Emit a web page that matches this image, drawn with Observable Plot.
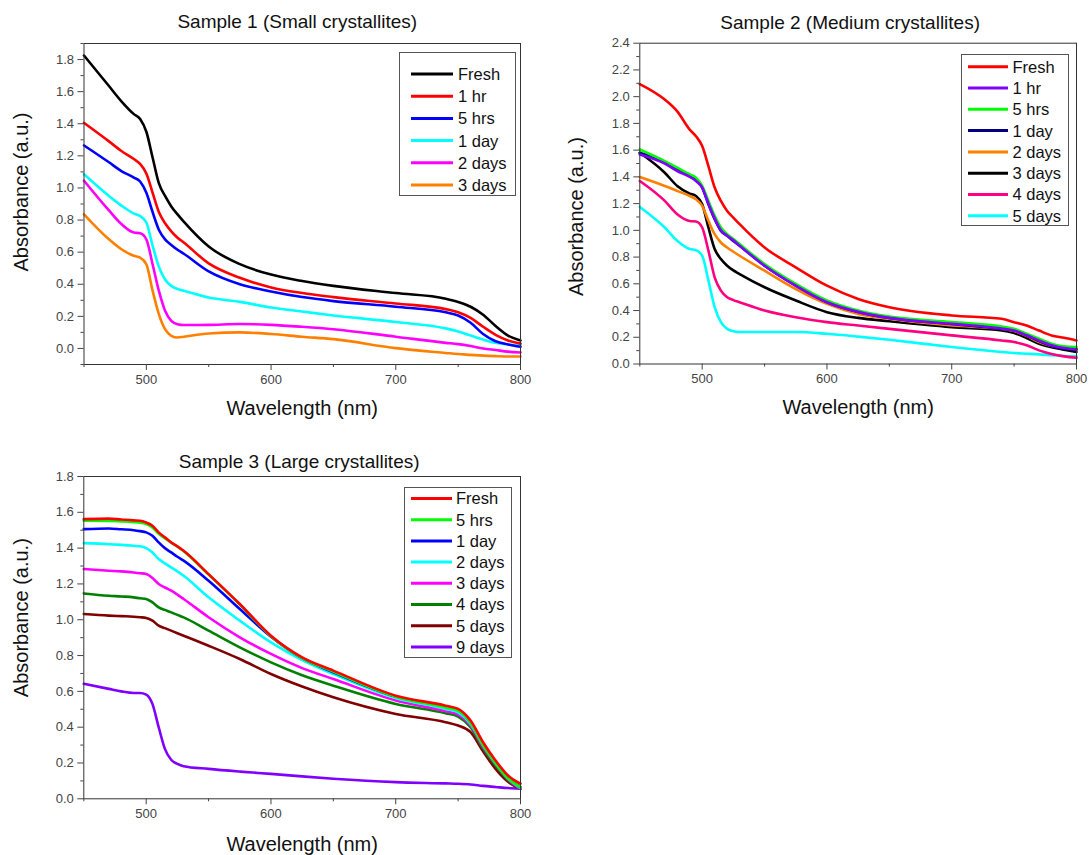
<!DOCTYPE html>
<html>
<head>
<meta charset="utf-8">
<script src="https://cdn.jsdelivr.net/npm/d3@7"></script>
<script src="https://cdn.jsdelivr.net/npm/@observablehq/plot@0.6"></script>
<style>
  body { margin: 0; background: #fff; }
  #root { position: relative; width: 1089px; height: 855px; overflow: hidden; font-family: Arial, "Liberation Sans", sans-serif; }
  .panel { position: absolute; }
  #overlay { position: absolute; left: 0; top: 0; pointer-events: none; }
</style>
</head>
<body>
<div id="root"></div>
<script>
// ---------- shared wavelength grid (nm) ----------
const wavelength = [450, 470, 480, 490, 495, 500, 505, 510, 515, 520, 525, 530, 550, 575, 600, 625, 650, 700, 740, 750, 760, 770, 780, 790, 800];

// ---------- Sample 1 (Small crystallites) ----------
const s1Labels = ["Fresh", "1 hr", "5 hrs", "1 day", "2 days", "3 days"];
const s1Colors = ["#000000", "#ff0000", "#0000ff", "#00ffff", "#ff00ff", "#ff8000"];
const s1Fresh = [1.825, 1.635, 1.54, 1.46, 1.43, 1.35, 1.19, 1.03, 0.95, 0.885, 0.835, 0.79, 0.635, 0.525, 0.46, 0.42, 0.39, 0.345, 0.31, 0.29, 0.26, 0.21, 0.14, 0.08, 0.05];
const s1Hr1 = [1.405, 1.29, 1.23, 1.18, 1.15, 1.09, 0.97, 0.85, 0.78, 0.73, 0.69, 0.66, 0.53, 0.44, 0.38, 0.345, 0.32, 0.28, 0.245, 0.225, 0.19, 0.135, 0.085, 0.05, 0.03];
const s1Hr5 = [1.265, 1.16, 1.105, 1.065, 1.04, 0.97, 0.85, 0.74, 0.68, 0.645, 0.615, 0.59, 0.48, 0.40, 0.355, 0.32, 0.295, 0.26, 0.225, 0.205, 0.16, 0.09, 0.045, 0.025, 0.01];
const s1Day1 = [1.085, 0.95, 0.89, 0.84, 0.825, 0.785, 0.64, 0.51, 0.43, 0.39, 0.37, 0.36, 0.317, 0.29, 0.255, 0.23, 0.205, 0.165, 0.125, 0.105, 0.08, 0.055, 0.035, 0.025, 0.02];
const s1Day2 = [1.045, 0.86, 0.775, 0.722, 0.718, 0.68, 0.525, 0.36, 0.235, 0.172, 0.151, 0.146, 0.147, 0.152, 0.147, 0.135, 0.12, 0.073, 0.035, 0.027, 0.015, 0.0, -0.01, -0.02, -0.025];
const s1Day3 = [0.836, 0.68, 0.618, 0.577, 0.566, 0.525, 0.36, 0.214, 0.12, 0.079, 0.068, 0.073, 0.093, 0.10, 0.09, 0.073, 0.058, 0.002, -0.028, -0.035, -0.04, -0.045, -0.048, -0.05, -0.05];
const s1Series = [s1Fresh, s1Hr1, s1Hr5, s1Day1, s1Day2, s1Day3];

// ---------- Sample 2 (Medium crystallites) ----------
const s2Labels = ["Fresh", "1 hr", "5 hrs", "1 day", "2 days", "3 days", "4 days", "5 days"];
const s2Colors = ["#ff0000", "#8000ff", "#00ff00", "#000080", "#ff8000", "#000000", "#ff0080", "#00ffff"];
const s2Fresh = [2.094, 1.978, 1.89, 1.754, 1.704, 1.63, 1.48, 1.32, 1.22, 1.145, 1.095, 1.046, 0.872, 0.723, 0.586, 0.487, 0.425, 0.363, 0.338, 0.313, 0.288, 0.25, 0.214, 0.196, 0.176];
const s2Hr1 = [1.568, 1.50, 1.444, 1.40, 1.369, 1.32, 1.20, 1.09, 1.00, 0.96, 0.925, 0.885, 0.735, 0.586, 0.462, 0.39, 0.345, 0.30, 0.265, 0.25, 0.215, 0.175, 0.14, 0.12, 0.11];
const s2Hr5 = [1.605, 1.518, 1.469, 1.419, 1.394, 1.332, 1.22, 1.108, 1.021, 0.971, 0.935, 0.897, 0.748, 0.599, 0.475, 0.40, 0.355, 0.313, 0.28, 0.263, 0.226, 0.189, 0.152, 0.132, 0.127];
const s2Day1 = [1.58, 1.51, 1.456, 1.41, 1.381, 1.32, 1.195, 1.083, 0.996, 0.959, 0.92, 0.884, 0.735, 0.586, 0.462, 0.39, 0.345, 0.30, 0.263, 0.25, 0.215, 0.171, 0.135, 0.115, 0.107];
const s2Day2 = [1.399, 1.332, 1.295, 1.257, 1.232, 1.183, 1.071, 0.971, 0.909, 0.872, 0.84, 0.81, 0.698, 0.561, 0.45, 0.375, 0.338, 0.288, 0.263, 0.246, 0.21, 0.164, 0.135, 0.122, 0.114];
const s2Day3 = [1.58, 1.431, 1.332, 1.275, 1.257, 1.195, 1.021, 0.86, 0.785, 0.735, 0.70, 0.673, 0.574, 0.475, 0.388, 0.345, 0.32, 0.276, 0.251, 0.231, 0.195, 0.152, 0.125, 0.107, 0.09];
const s2Day4 = [1.369, 1.22, 1.12, 1.07, 1.066, 1.021, 0.847, 0.648, 0.549, 0.50, 0.478, 0.462, 0.40, 0.35, 0.313, 0.288, 0.263, 0.214, 0.176, 0.164, 0.14, 0.102, 0.075, 0.057, 0.047];
const s2Day5 = [1.175, 1.021, 0.922, 0.86, 0.852, 0.81, 0.624, 0.425, 0.313, 0.263, 0.245, 0.239, 0.239, 0.239, 0.226, 0.205, 0.181, 0.127, 0.09, 0.082, 0.077, 0.072, 0.065, 0.06, 0.057];
const s2Series = [s2Fresh, s2Hr1, s2Hr5, s2Day1, s2Day2, s2Day3, s2Day4, s2Day5];

// ---------- Sample 3 (Large crystallites) ----------
const s3Labels = ["Fresh", "5 hrs", "1 day", "2 days", "3 days", "4 days", "5 days", "9 days"];
const s3Colors = ["#ff0000", "#00ff00", "#0000ff", "#00ffff", "#ff00ff", "#008000", "#800000", "#8000ff"];
const s3Fresh = [1.562, 1.565, 1.56, 1.555, 1.553, 1.543, 1.525, 1.488, 1.46, 1.432, 1.41, 1.385, 1.255, 1.088, 0.911, 0.79, 0.716, 0.576, 0.52, 0.502, 0.437, 0.316, 0.214, 0.13, 0.084];
const s3Hr5 = [1.553, 1.552, 1.549, 1.545, 1.542, 1.534, 1.515, 1.48, 1.455, 1.43, 1.408, 1.383, 1.252, 1.085, 0.908, 0.786, 0.71, 0.57, 0.51, 0.492, 0.425, 0.30, 0.20, 0.115, 0.065];
const s3Day1 = [1.506, 1.51, 1.505, 1.50, 1.495, 1.488, 1.469, 1.432, 1.40, 1.376, 1.352, 1.33, 1.218, 1.06, 0.905, 0.785, 0.707, 0.571, 0.515, 0.496, 0.428, 0.305, 0.205, 0.12, 0.065];
const s3Day2 = [1.428, 1.422, 1.418, 1.413, 1.41, 1.40, 1.376, 1.339, 1.315, 1.292, 1.27, 1.246, 1.125, 0.995, 0.874, 0.775, 0.697, 0.563, 0.502, 0.483, 0.418, 0.30, 0.199, 0.115, 0.061];
const s3Day3 = [1.283, 1.274, 1.27, 1.264, 1.26, 1.255, 1.233, 1.20, 1.18, 1.162, 1.14, 1.116, 1.014, 0.902, 0.809, 0.73, 0.669, 0.549, 0.489, 0.47, 0.409, 0.29, 0.195, 0.11, 0.056];
const s3Day4 = [1.147, 1.134, 1.13, 1.125, 1.12, 1.116, 1.097, 1.069, 1.055, 1.041, 1.027, 1.013, 0.939, 0.846, 0.762, 0.69, 0.632, 0.53, 0.478, 0.459, 0.40, 0.28, 0.186, 0.105, 0.056];
const s3Day5 = [1.032, 1.023, 1.02, 1.017, 1.014, 1.01, 0.995, 0.967, 0.953, 0.939, 0.925, 0.911, 0.855, 0.781, 0.697, 0.627, 0.567, 0.474, 0.428, 0.409, 0.372, 0.265, 0.167, 0.095, 0.056];
const s3Day9 = [0.642, 0.614, 0.60, 0.591, 0.591, 0.582, 0.53, 0.40, 0.279, 0.218, 0.195, 0.182, 0.167, 0.152, 0.139, 0.125, 0.112, 0.093, 0.086, 0.084, 0.08, 0.072, 0.066, 0.06, 0.056];
const s3Series = [s3Fresh, s3Hr5, s3Day1, s3Day2, s3Day3, s3Day4, s3Day5, s3Day9];

// ---------- tick definitions ----------
const xMajorTicks = [500, 600, 700, 800];
const xMinorTicks = [450, 550, 650, 750];

const FONT = "Arial, 'Liberation Sans', sans-serif";
const root = document.getElementById("root");

function range(a, b, step) { const out = []; for (let v = a; v <= b + 1e-9; v += step) out.push(+v.toFixed(2)); return out; }

function makePanel(cfg) {
  const table = [];
  cfg.series.forEach((vals, i) => vals.forEach((a, j) => table.push({w: wavelength[j], a, s: cfg.labels[i]})));
  const lines = cfg.labels.map((lab, i) => Plot.line(table.filter(d => d.s === lab), {
    x: "w", y: "a", stroke: cfg.colors[i], strokeWidth: 2.6, curve: "monotone-x"
  })).reverse();
  const plot = Plot.plot({
    width: cfg.width, height: cfg.height,
    marginLeft: cfg.ml, marginRight: cfg.mr, marginTop: cfg.mt, marginBottom: cfg.mb,
    x: {domain: [450, 800]},
    y: {domain: cfg.yDomain},
    style: {fontFamily: FONT, background: "transparent", overflow: "visible", color: "#333"},
    marks: [
      ...lines,
      Plot.frame({stroke: "#333", strokeWidth: 1}),
      Plot.axisX({ticks: xMajorTicks, tickSize: 6, tickPadding: 4, fontSize: 13, tickFormat: d => String(d), label: null, color: "#444"}),
      Plot.axisX({ticks: xMinorTicks, tickSize: 3, tickFormat: () => "", label: null, color: "#444"}),
      Plot.axisY({ticks: cfg.yMajor, tickSize: 6, tickPadding: 4, fontSize: 13, tickFormat: d => d.toFixed(1), label: null, color: "#444"}),
      Plot.axisY({ticks: cfg.yMinor, tickSize: 3, tickFormat: () => "", label: null, color: "#444"}),
      Plot.text([cfg.title], {frameAnchor: "top", dy: cfg.titleDy, dx: cfg.titleDx || 0, fontSize: 19, fill: "#111", text: d => d}),
      Plot.text(["Wavelength (nm)"], {frameAnchor: "bottom", dy: cfg.xLabelDy, fontSize: 20, fill: "#111", text: d => d}),
      Plot.text(["Absorbance (a.u.)"], {frameAnchor: "left", textAnchor: "middle", dx: cfg.yLabelDx, dy: cfg.yLabelDy || 0, rotate: -90, fontSize: 20, fill: "#111", text: d => d})
    ]
  });
  plot.classList.add("panel");
  plot.style.left = cfg.left + "px";
  plot.style.top = cfg.top + "px";
  root.appendChild(plot);
}

makePanel({
  series: s1Series, labels: s1Labels, colors: s1Colors,
  left: 0, top: 0, width: 545, height: 425, ml: 83.5, mr: 25, mt: 43, mb: 425 - 364,
  yDomain: [-0.1, 1.9], yMajor: range(0, 1.8, 0.2), yMinor: range(-0.1, 1.9, 0.2),
  title: "Sample 1 (Small crystallites)", titleDy: -29, titleDx: -5, xLabelDy: 50, yLabelDx: -62, yLabelDy: -12
});
makePanel({
  series: s2Series, labels: s2Labels, colors: s2Colors,
  left: 545, top: 0, width: 544, height: 425, ml: 94.3, mr: 13, mt: 42.7, mb: 425 - 363.5,
  yDomain: [0, 2.4], yMajor: range(0, 2.4, 0.2), yMinor: range(0.1, 2.3, 0.2),
  title: "Sample 2 (Medium crystallites)", titleDy: -28, titleDx: -8, xLabelDy: 50, yLabelDx: -63, yLabelDy: 13
});
makePanel({
  series: s3Series, labels: s3Labels, colors: s3Colors,
  left: 0, top: 430, width: 545, height: 425, ml: 83.3, mr: 25, mt: 46, mb: 855 - 798.3,
  yDomain: [0, 1.8], yMajor: range(0, 1.8, 0.2), yMinor: range(0.1, 1.7, 0.2),
  title: "Sample 3 (Large crystallites)", titleDy: -22, titleDx: -3, xLabelDy: 52, yLabelDx: -62, yLabelDy: -20
});

// ---------- legends (overlay) ----------
const overlay = d3.select(root).append("svg").attr("id", "overlay").attr("width", 1089).attr("height", 855)
  .style("font-family", FONT);
function legend(box, rows0, step, lineX0, lineX1, textX, labels, colors) {
  overlay.append("rect").attr("x", box[0] + 0.5).attr("y", box[1] + 0.5).attr("width", box[2]).attr("height", box[3])
    .attr("fill", "#fff").attr("stroke", "#555").attr("stroke-width", 1);
  labels.forEach((lab, i) => {
    const y = rows0 + i * step;
    overlay.append("line").attr("x1", lineX0).attr("x2", lineX1).attr("y1", y).attr("y2", y)
      .attr("stroke", colors[i]).attr("stroke-width", 3);
    overlay.append("text").attr("x", textX).attr("y", y).attr("dy", "0.36em").attr("font-size", 16.5)
      .attr("fill", "#111").text(lab);
  });
}
legend([399, 52, 116, 143], 74, 22.2, 411, 453, 458, s1Labels, s1Colors);
legend([961, 54, 107, 171], 66.7, 21.3, 968, 1008, 1012.5, s2Labels, s2Colors);
legend([404, 487, 107, 170], 498.5, 21.2, 411, 452, 456, s3Labels, s3Colors);
</script>
</body>
</html>
